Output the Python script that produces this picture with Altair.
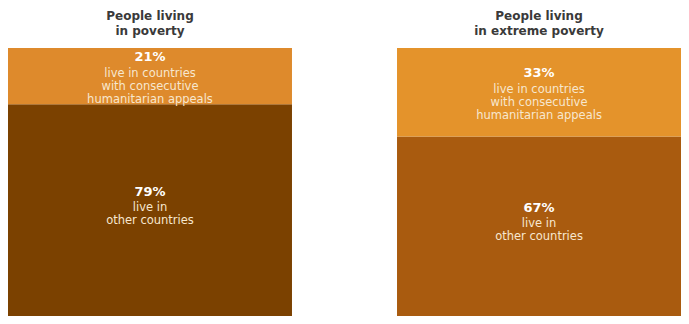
import altair as alt
import pandas as pd

groups = ["People living\nin poverty", "People living\nin extreme poverty"]
group_keys = ["poverty", "extreme"]
appeal_share = [21, 33]
other_share = [79, 67]
appeal_colors = ["#de8a2c", "#e4932b"]
other_colors = ["#7b4100", "#a95b0f"]
appeal_desc = "live in countries\nwith consecutive\nhumanitarian appeals"
other_desc = "live in\nother countries"

rows = []
for i, g in enumerate(group_keys):
    rows.append({"group": g, "seg": "other", "order": 0, "value": other_share[i],
                 "color": other_colors[i], "pct": f"{other_share[i]}%", "desc": other_desc})
    rows.append({"group": g, "seg": "appeal", "order": 1, "value": appeal_share[i],
                 "color": appeal_colors[i], "pct": f"{appeal_share[i]}%", "desc": appeal_desc})
df = pd.DataFrame(rows)
titles = pd.DataFrame({"group": group_keys, "title": groups})

x = alt.X("group:N", sort=group_keys, axis=None,
          scale=alt.Scale(paddingInner=0.27, paddingOuter=0))
yscale = alt.Scale(domain=[0, 114.925], nice=False, zero=False)

base = alt.Chart(df).transform_stack(
    stack="value", as_=["y0", "y1"], groupby=["group"],
    sort=[alt.SortField("order", order="ascending")]
).transform_calculate(mid="(datum.y0 + datum.y1) / 2")

top = base.transform_filter("datum.seg == 'appeal'")
bot = base.transform_filter("datum.seg == 'other'")

bars = base.mark_bar().encode(
    x=x,
    y=alt.Y("y0:Q", scale=yscale, axis=None),
    y2="y1:Q",
    color=alt.Color("color:N", scale=None),
)

def pct_layer(src, dy):
    return src.mark_text(font="DejaVu Sans", fontWeight="bold", fontSize=13,
                         color="#ffffff", baseline="middle", dy=dy).encode(
        x=x, y=alt.Y("mid:Q", scale=yscale), text="pct:N")

def desc_layer(src, dy):
    return src.mark_text(font="DejaVu Sans", fontSize=11.5, color="#f7e7cf",
                         baseline="middle", lineBreak="\n", lineHeight=13,
                         dy=dy).encode(
        x=x, y=alt.Y("mid:Q", scale=yscale), text="desc:N")

title_text = alt.Chart(titles).mark_text(
    font="DejaVu Sans", fontWeight="bold", fontSize=12, color="#3a3a3a",
    baseline="middle", lineBreak="\n", lineHeight=15).encode(
    x=x, y=alt.value(8), text="title:N")

chart = alt.layer(
    bars,
    pct_layer(top, -19), desc_layer(top, -2),
    pct_layer(bot, -18), desc_layer(bot, -2),
    title_text,
).properties(
    width=673, height=308, padding=0,
    autosize=alt.AutoSizeParams(type="none"),
).configure_view(stroke=None)

chart.save("out.html", embed_options={"renderer": "svg", "actions": False})
